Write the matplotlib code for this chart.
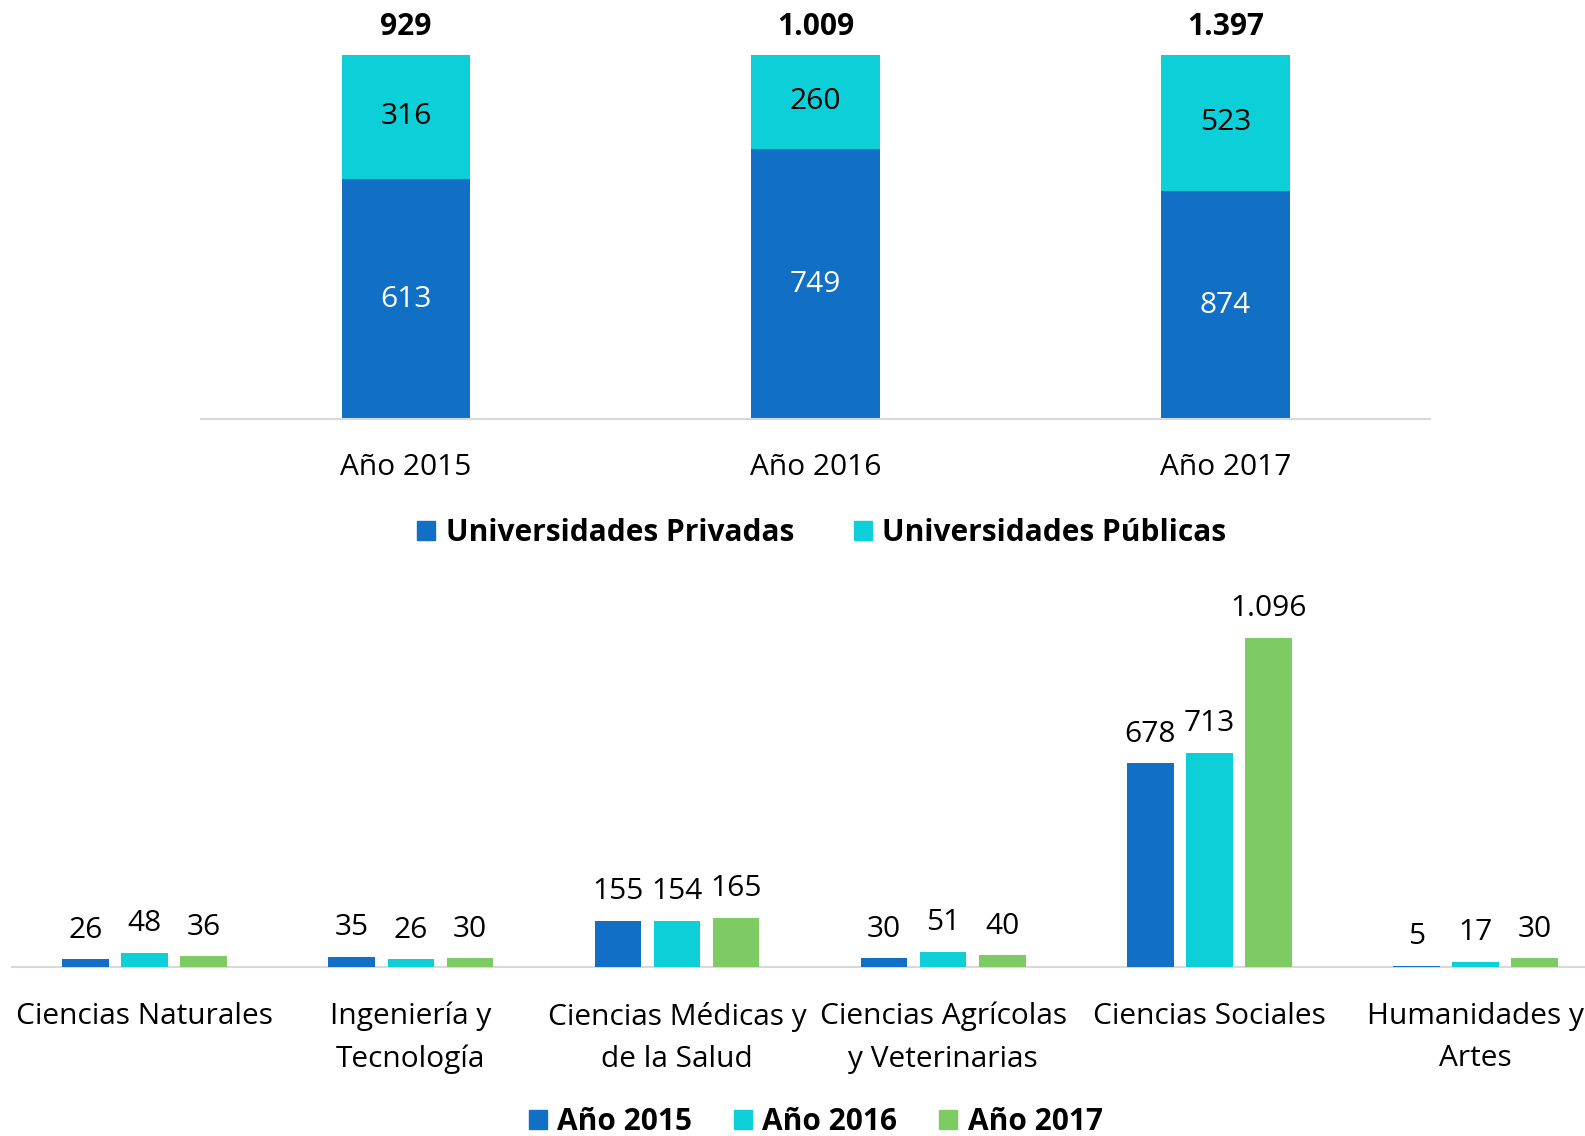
from matplotlib import pyplot as plt
from matplotlib.patches import Patch
import numpy as np

plt.rcParams['font.family'] = ['Open Sans', 'DejaVu Sans']

# top chart: totals by type of university
years = ['Año 2015', 'Año 2016', 'Año 2017']
privadas = [613, 749, 874]
publicas = [316, 260, 523]
totales = ['929', '1.009', '1.397']

# bottom chart: by field of knowledge
areas = ['Ciencias Naturales', 'Ingeniería y\nTecnología', 'Ciencias Médicas y\nde la Salud',
         'Ciencias Agrícolas\ny Veterinarias', 'Ciencias Sociales', 'Humanidades y\nArtes']
v2015 = [26, 35, 155, 30, 678, 5]
v2016 = [48, 26, 154, 51, 713, 17]
v2017 = [36, 30, 165, 40, 1096, 30]
serie_names = ['Año 2015', 'Año 2016', 'Año 2017']

BLUE = '#1170C6'
CYAN = '#0DCFD8'
GREEN = '#7DCB62'
GRID = '#D9D9D9'
FS = 21.5

def fmt(v):
  return f'{v:,}'.replace(',', '.')

fig = plt.figure(figsize=(15.85, 11.36), dpi=100)
W, H = 1568, 1124

### top: 100% stacked
ax1 = fig.add_axes([199/W, 1-415/H, (1415-199)/W, (415-54)/H])
x = np.arange(len(years))
tot = np.array(privadas) + np.array(publicas)
fp = np.array(privadas) / tot
fu = np.array(publicas) / tot
ax1.bar(x, fp, width=0.314, color=BLUE)
ax1.bar(x, fu, bottom=fp, width=0.314, color=CYAN)
for i in range(len(years)):
  ax1.text(x[i], fp[i]/2, str(privadas[i]), ha='center', va='center', color='white', fontsize=FS)
  ax1.text(x[i], fp[i] + fu[i]/2, str(publicas[i]), ha='center', va='center', color='black', fontsize=FS)
  ax1.annotate(totales[i], (x[i], 1), xytext=(0, 20), textcoords='offset points',
               ha='center', va='center', fontsize=FS, fontweight='bold', annotation_clip=False)
ax1.set_xlim(-0.5, 2.5)
ax1.set_ylim(0, 1)
ax1.set_xticks(x)
ax1.set_xticklabels(years, fontsize=FS)
ax1.tick_params(axis='x', length=0, pad=24)
ax1.set_yticks([])
for s in ['top', 'right', 'left']:
  ax1.spines[s].set_visible(False)
ax1.spines['bottom'].set_color(GRID)
ax1.spines['bottom'].set_linewidth(1.5)
h1 = [Patch(color=BLUE), Patch(color=CYAN)]
fig.legend(h1, ['Universidades Privadas', 'Universidades Públicas'], loc='center',
           bbox_to_anchor=(813/W, 1-527/H), ncol=2, frameon=False,
           prop={'size': FS, 'weight': 'bold'}, handlelength=0.6, handleheight=0.6,
           handletextpad=0.35, columnspacing=2.0)

### bottom: grouped bars
ax2 = fig.add_axes([11.5/W, 1-957/H, (263.3*6)/W, 357/H])
x2 = np.arange(len(areas))
step = 0.222
bw = 0.175
for k, (vals, col) in enumerate(zip([v2015, v2016, v2017], [BLUE, CYAN, GREEN])):
  xs = x2 + (k-1)*step
  ax2.bar(xs, vals, width=bw, color=col, zorder=3)
  for xi, v in zip(xs, vals):
    ax2.annotate(fmt(v), (xi, v), xytext=(0, 21), textcoords='offset points',
                 ha='center', va='center', fontsize=FS, annotation_clip=False)
ax2.set_xlim(-0.5, 5.5)
ax2.set_ylim(0, 1200)
ax2.set_xticks(x2)
ax2.set_xticklabels(areas, fontsize=FS, linespacing=1.6)
ax2.tick_params(axis='x', length=0, pad=25)
ax2.set_yticks([])
for s in ['top', 'right', 'left']:
  ax2.spines[s].set_visible(False)
ax2.spines['bottom'].set_color(GRID)
ax2.spines['bottom'].set_linewidth(1.5)
h2 = [Patch(color=BLUE), Patch(color=CYAN), Patch(color=GREEN)]
fig.legend(h2, serie_names, loc='center', bbox_to_anchor=(807/W, 1-1110/H), ncol=3,
           frameon=False, prop={'size': FS, 'weight': 'bold'}, handlelength=0.6,
           handleheight=0.6, handletextpad=0.35, columnspacing=1.4)

fig.savefig('out.png', dpi=100)
